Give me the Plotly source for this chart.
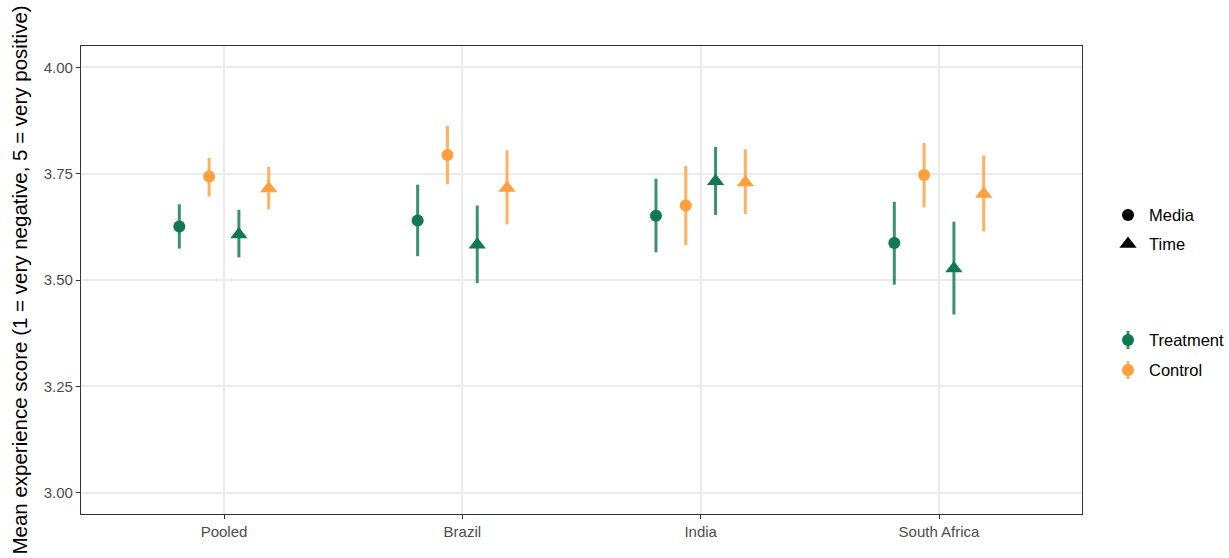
import plotly.graph_objects as go

# Country groups on the x axis
countries = ["Pooled", "Brazil", "India", "South Africa"]

# Mean scores and 95% interval bounds per arm and measure
treat_media_mean = [3.626, 3.640, 3.651, 3.587]
treat_media_lo = [3.574, 3.556, 3.565, 3.489]
treat_media_hi = [3.678, 3.724, 3.738, 3.684]

ctrl_media_mean = [3.743, 3.794, 3.675, 3.747]
ctrl_media_lo = [3.696, 3.725, 3.582, 3.671]
ctrl_media_hi = [3.787, 3.862, 3.768, 3.822]

treat_time_mean = [3.607, 3.583, 3.732, 3.527]
treat_time_lo = [3.553, 3.493, 3.653, 3.419]
treat_time_hi = [3.665, 3.675, 3.813, 3.637]

ctrl_time_mean = [3.715, 3.716, 3.729, 3.702]
ctrl_time_lo = [3.666, 3.631, 3.655, 3.614]
ctrl_time_hi = [3.766, 3.805, 3.807, 3.793]

y_ticks = [3.00, 3.25, 3.50, 3.75, 4.00]

# Legend entries
measure_labels = ["Media", "Time"]
arm_labels = ["Treatment", "Control"]

GREEN = "#10794f"
GREEN_BAR = "rgba(16,121,79,0.82)"
ORANGE = "#ffa03c"
ORANGE_BAR = "rgba(255,160,60,0.82)"
FONT = "Liberation Sans, Arial, sans-serif"

W, H = 1229, 558
M_L, M_R, M_T, M_B = 81, 147, 46, 44
PLOT_W = W - M_L - M_R
PLOT_H = H - M_T - M_B

series = [
    # (means, lo, hi, dodge offset, symbol, marker colour, bar colour, size)
    (treat_media_mean, treat_media_lo, treat_media_hi, -0.1875, "circle", GREEN, GREEN_BAR, 12),
    (ctrl_media_mean, ctrl_media_lo, ctrl_media_hi, -0.0625, "circle", ORANGE, ORANGE_BAR, 12),
    (treat_time_mean, treat_time_lo, treat_time_hi, 0.0625, "triangle-up", GREEN, GREEN_BAR, 15),
    (ctrl_time_mean, ctrl_time_lo, ctrl_time_hi, 0.1875, "triangle-up", ORANGE, ORANGE_BAR, 15),
]

fig = go.Figure()

for means, lo, hi, off, sym, col, barcol, size in series:
    xs = [i + off for i in range(len(countries))]
    fig.add_trace(go.Scatter(
        x=xs, y=means, mode="markers",
        marker=dict(symbol=sym, color=col, size=size, line=dict(width=0)),
        error_y=dict(
            type="data", symmetric=False,
            array=[h - m for h, m in zip(hi, means)],
            arrayminus=[m - l for m, l in zip(means, lo)],
            color=barcol, thickness=3, width=0,
        ),
        showlegend=False, hoverinfo="skip",
    ))


# Legend keys are drawn in the right margin with paper-anchored pixel shapes
def px_to_paper(px_x, px_y):
    return (px_x - M_L) / PLOT_W, (H - M_B - px_y) / PLOT_H


KEY_X_PX, TEXT_X_PX = 1128, 1148
measure_rows = [215, 244]
arm_rows = [340, 370]


def circle_key(px_y, color):
    ax, ay = px_to_paper(KEY_X_PX, px_y)
    fig.add_shape(
        type="circle", xref="paper", yref="paper",
        xsizemode="pixel", ysizemode="pixel", xanchor=ax, yanchor=ay,
        x0=-6, x1=6, y0=-6, y1=6,
        fillcolor=color, line=dict(width=0, color=color),
    )


def triangle_key(px_y, color):
    ax, ay = px_to_paper(KEY_X_PX, px_y)
    fig.add_shape(
        type="path", xref="paper", yref="paper",
        xsizemode="pixel", ysizemode="pixel", xanchor=ax, yanchor=ay,
        path="M-8.66,-3.75 L8.66,-3.75 L0,7.5 Z",
        fillcolor=color, line=dict(width=0, color=color),
    )


def bar_key(px_y, color):
    ax, ay = px_to_paper(KEY_X_PX, px_y)
    fig.add_shape(
        type="line", xref="paper", yref="paper",
        xsizemode="pixel", ysizemode="pixel", xanchor=ax, yanchor=ay,
        x0=0, x1=0, y0=-9, y1=9,
        line=dict(color=color, width=3),
    )


def key_label(px_y, text):
    tx, ty = px_to_paper(TEXT_X_PX, px_y)
    fig.add_annotation(
        x=tx, y=ty, xref="paper", yref="paper",
        xanchor="left", yanchor="middle", showarrow=False,
        borderpad=0,
        text=text, font=dict(family=FONT, size=16.5, color="black"),
    )


circle_key(measure_rows[0], "black")
key_label(measure_rows[0], measure_labels[0])
triangle_key(measure_rows[1], "black")
key_label(measure_rows[1], measure_labels[1])

for row, label, col, barcol in zip(arm_rows, arm_labels, [GREEN, ORANGE], [GREEN_BAR, ORANGE_BAR]):
    bar_key(row, barcol)
    circle_key(row, col)
    key_label(row, label)

fig.update_layout(
    width=W, height=H,
    margin=dict(l=M_L, r=M_R, t=M_T, b=M_B),
    paper_bgcolor="white", plot_bgcolor="white",
    font=dict(family=FONT),
    showlegend=False,
    xaxis=dict(
        range=[-0.6, 3.6],
        tickmode="array", tickvals=list(range(len(countries))), ticktext=countries,
        tickfont=dict(family=FONT, size=15, color="#4d4d4d"),
        ticks="outside", ticklen=4, tickwidth=1.2, tickcolor="#333333",
        showgrid=True, gridcolor="#ebebeb", gridwidth=1.5,
        showline=True, linecolor="#333333", linewidth=1.2, mirror=True,
        zeroline=False,
    ),
    yaxis=dict(
        range=[2.95, 4.05],
        tickmode="array", tickvals=y_ticks, ticktext=[f"{v:.2f}" for v in y_ticks],
        tickfont=dict(family=FONT, size=15, color="#4d4d4d"),
        ticks="outside", ticklen=4, tickwidth=1.2, tickcolor="#333333",
        showgrid=True, gridcolor="#ebebeb", gridwidth=1.5,
        showline=True, linecolor="#333333", linewidth=1.2, mirror=True,
        zeroline=False,
        title=dict(
            text="Mean experience score (1 = very negative, 5 = very positive)",
            font=dict(family=FONT, size=20.5, color="black"),
            standoff=10,
        ),
        automargin=False,
    ),
)

fig.write_html("out.html")
